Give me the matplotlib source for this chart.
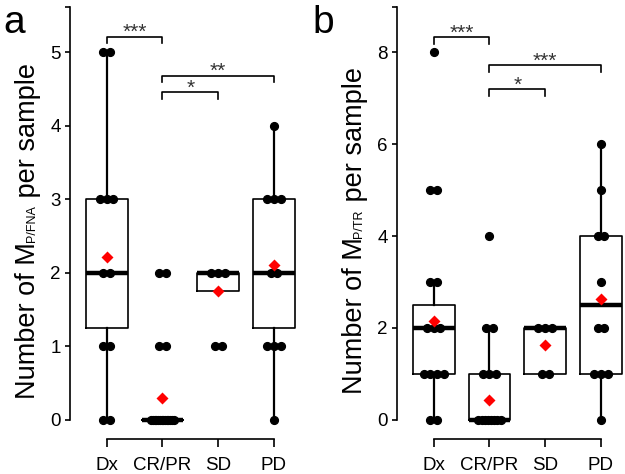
import numpy as np
import matplotlib.pyplot as plt
from matplotlib.transforms import IdentityTransform

plt.rcParams['font.family'] = ['Liberation Sans', 'DejaVu Sans']

groups = ["Dx", "CR/PR", "SD", "PD"]

# panel a: M P/FNA per sample
a_dx = [0, 0, 1, 1, 2, 2, 3, 3, 3, 5, 5]
a_crpr = [0] * 14 + [1, 1, 2, 2]
a_sd = [1, 1, 2, 2, 2]
a_pd = [0, 1, 1, 1, 2, 2, 3, 3, 3, 4]
a_q1 = [1.25, 0, 1.75, 1.25]
a_med = [2, 0, 2, 2]
a_q3 = [3, 0, 2, 3]
a_wlo = [0, 0, 1.75, 0]
a_whi = [5, 0, 2, 4]
a_mean = [2.22, 0.30, 1.75, 2.10]
a_yticks = [0, 1, 2, 3, 4, 5]
a_ymax = 5.4
a_br_from = [1, 2, 2]
a_br_to = [2, 4, 3]
a_br_y = [5.21, 4.68, 4.46]
a_br_txt = ["***", "**", "*"]
a_label = ["Number of M", "P/FNA", " per sample"]

# panel b: M P/TR per sample
b_dx = [0, 0, 1, 1, 1, 1, 2, 2, 2, 3, 3, 5, 5, 8]
b_crpr = [0] * 8 + [1, 1, 1, 2, 2, 4]
b_sd = [1, 1, 2, 2, 2]
b_pd = [0, 1, 1, 1, 2, 2, 3, 4, 4, 5, 6]
b_q1 = [1, 0, 1, 1]
b_med = [2, 0, 2, 2.5]
b_q3 = [2.5, 1, 2, 4]
b_wlo = [0, 0, 1, 0]
b_whi = [3, 2, 2, 6]
b_mean = [2.15, 0.43, 1.62, 2.62]
b_yticks = [0, 2, 4, 6, 8]
b_ymax = 8.64
b_br_from = [1, 2, 2]
b_br_to = [2, 4, 3]
b_br_y = [8.33, 7.71, 7.19]
b_br_txt = ["***", "***", "*"]
b_label = ["Number of M", "P/TR", " per sample"]


def spread(n, step=0.12, maxw=0.2):
    # symmetric offsets for tied values (stand-in for R's jitter)
    if n == 1:
        return np.zeros(1)
    w = min(step * (n - 1) / 2, maxw)
    return np.linspace(-w, w, n)


def ylabel_parts(ax, parts, off_px=35, ycenter=0.478):
    # rotated label with small-caps style suffix sitting on the baseline
    fig = ax.figure
    r = fig.canvas.get_renderer()
    x0, y0 = ax.transAxes.transform((0, 0))
    _, y1 = ax.transAxes.transform((0, ycenter))
    sizes = [19.5, 9, 19.5]
    txts = [fig.text(0, 0, p, fontsize=s, rotation=90, rotation_mode='anchor',
                     ha='left', va='baseline', transform=IdentityTransform())
            for p, s in zip(parts, sizes)]
    lens = [t.get_window_extent(r).height for t in txts]
    y = y1 - sum(lens) / 2
    for t, L in zip(txts, lens):
        t.set_position((x0 - off_px, y))
        y += L


def panel(ax, pts, q1, med, q3, wlo, whi, means, yticks, ymax,
          br_from, br_to, br_y, br_txt, label):
    lo, hi = -0.04 * ymax, ymax * 1.04
    rng = hi - lo
    stats = [dict(med=m, q1=a, q3=b, whislo=c, whishi=d, fliers=[])
             for m, a, b, c, d in zip(med, q1, q3, wlo, whi)]
    ax.bxp(stats, positions=range(1, 5), widths=0.75, showcaps=False,
           showfliers=False,
           boxprops=dict(color='black', lw=1.2),
           whiskerprops=dict(color='black', lw=1.6),
           medianprops=dict(color='black', lw=3.2, solid_capstyle='butt'))
    for i, vals in enumerate(pts):
        vals = np.array(vals)
        for v in np.unique(vals):
            n = np.sum(vals == v)
            ax.plot(i + 1 + spread(n), [v] * n, 'o', color='black', ms=5.6,
                    zorder=3)
    ax.plot(range(1, 5), means, 'D', color='#ff0000', ms=5.8, mec='none',
            zorder=4)
    leg = 0.016 * rng
    for x0, x1, y, t in zip(br_from, br_to, br_y, br_txt):
        ax.plot([x0, x0, x1, x1], [y - leg, y, y, y - leg], color='black',
                lw=1.2, clip_on=False)
        ax.text((x0 + x1) / 2, y - 0.004 * rng, t, ha='center',
                va='baseline', fontsize=15, color='#333333')
    ax.set_xlim(0.34, 4.66)
    ax.set_ylim(lo, hi)
    ax.spines[['top', 'right']].set_visible(False)
    ax.spines['left'].set_bounds(0, hi)
    ax.spines['bottom'].set_bounds(1, 4)
    ax.spines['bottom'].set_position(('outward', 2))
    for s in ax.spines.values():
        s.set_linewidth(1.2)
    ax.set_yticks(yticks + [hi], [str(t) for t in yticks] + [''])
    ax.set_xticks(range(1, 5), groups)
    ax.tick_params(axis='y', direction='out', length=3.8, width=1.2,
                   labelsize=13.5, pad=3)
    ax.tick_params(axis='x', direction='out', length=5.5, width=1.2,
                   labelsize=13.5, pad=8)
    ylabel_parts(ax, label)


fig = plt.figure(figsize=(6.25, 4.74), dpi=100)
ax_a = fig.add_axes([0.112, 0.0804, 0.385, 0.9055])
ax_b = fig.add_axes([0.6352, 0.0804, 0.385, 0.9055])

panel(ax_a, [a_dx, a_crpr, a_sd, a_pd], a_q1, a_med, a_q3, a_wlo, a_whi,
      a_mean, a_yticks, a_ymax, a_br_from, a_br_to, a_br_y, a_br_txt,
      a_label)
panel(ax_b, [b_dx, b_crpr, b_sd, b_pd], b_q1, b_med, b_q3, b_wlo, b_whi,
      b_mean, b_yticks, b_ymax, b_br_from, b_br_to, b_br_y, b_br_txt,
      b_label)

fig.text(0.005, 0.99, 'a', fontsize=28, va='top', ha='left')
fig.text(0.50, 0.99, 'b', fontsize=28, va='top', ha='left')

fig.savefig('out.png', dpi=100)
